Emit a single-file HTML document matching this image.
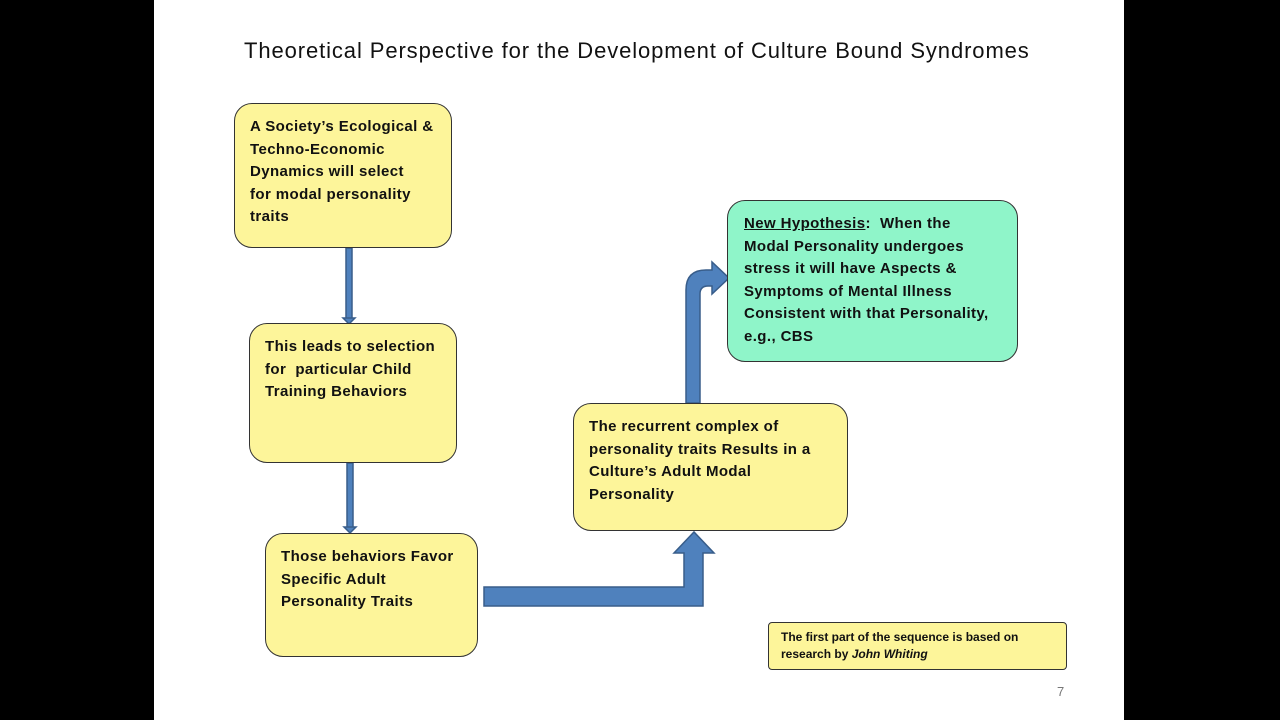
<!DOCTYPE html>
<html><head><style>
body{margin:0;width:1280px;height:720px;background:#000;position:relative;overflow:hidden;font-family:"Liberation Sans",sans-serif}
.slide{position:absolute;left:154px;top:0;width:970px;height:720px;background:#fff}
.box{position:absolute;background:#fdf59a;border:1.5px solid #333;border-radius:18px;box-sizing:border-box;font-weight:bold;font-size:15px;letter-spacing:0.4px;line-height:22.6px;color:#111;padding:12px 14px;white-space:nowrap}
.title{position:absolute;left:244px;top:38px;font-size:22px;letter-spacing:0.9px;color:#111;white-space:nowrap}
</style></head><body>
<div class="slide"></div>
<div class="title">Theoretical Perspective for the Development of Culture Bound Syndromes</div>
<svg width="1280" height="720" style="position:absolute;left:0;top:0">
<g fill="#4f81bd" stroke="#385d8a" stroke-width="1.5">
<rect x="346" y="248" width="6" height="72"/>
<polygon points="343,318 355,318 349,324"/>
<rect x="347" y="463" width="6" height="66"/>
<polygon points="344,527 356,527 350,533"/>
<polygon points="484,587 684,587 684,553 674,553 694,532 714,553 703,553 703,606 484,606"/>
<path d="M686,403 L686,290 Q686,270 706,270 L712,270 L712,262 L729,278 L712,294 L712,286 L708,286 Q700,286 700,294 L700,403 Z"/>
</g>
</svg>
<div class="box" style="left:234px;top:103px;width:218px;height:145px;padding-top:12px;padding-left:15px">A Society’s Ecological &amp;<br>Techno-Economic<br>Dynamics will select<br>for modal personality<br>traits</div>
<div class="box" style="left:249px;top:323px;width:208px;height:140px;padding-top:12px;padding-left:15px">This leads to selection<br>for &nbsp;particular Child<br>Training Behaviors</div>
<div class="box" style="left:265px;top:533px;width:213px;height:124px;padding-left:15px">Those behaviors Favor<br>Specific Adult<br>Personality Traits</div>
<div class="box" style="left:573px;top:403px;width:275px;height:128px;padding-top:12px;padding-left:15px">The recurrent complex of<br>personality traits Results in a<br>Culture’s Adult Modal<br>Personality</div>
<div class="box" style="left:727px;top:200px;width:291px;height:162px;background:#8ff5c9;padding-top:12px;padding-left:16px"><u>New Hypothesis</u>: &nbsp;When the<br>Modal Personality undergoes<br>stress it will have Aspects &amp;<br>Symptoms of Mental Illness<br>Consistent with that Personality,<br>e.g., CBS</div>
<div class="box" style="left:768px;top:622px;width:299px;height:48px;border-radius:4px;font-size:12px;letter-spacing:0;line-height:17px;padding:6px 12px">The first part of the sequence is based on<br>research by <i>John Whiting</i></div>
<div style="position:absolute;left:1057px;top:684px;font-size:13px;color:#777">7</div>
</body></html>
